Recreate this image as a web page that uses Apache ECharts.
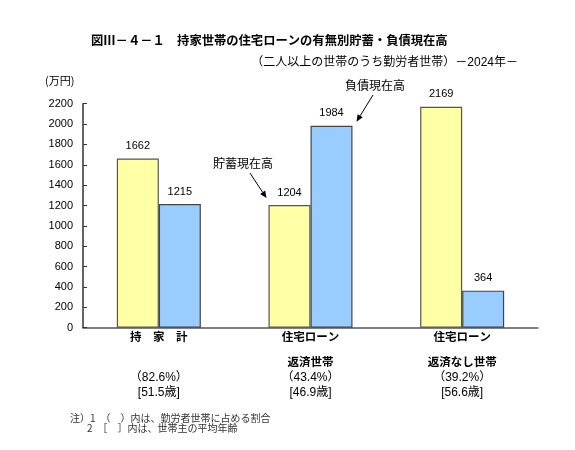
<!DOCTYPE html>
<html lang="ja" style="height: 100%">

<head>
    <meta charset="utf-8" />
    <script src="https://cdn.jsdelivr.net/npm/echarts@6/dist/echarts.min.js"></script>
</head>

<body style="height: 100%; margin: 0; background: #fff">
    <div id="container" style="width: 575px;height: 450px;"></div>
    <script type="text/javascript">
        // データ
        const categories = ['持　家　計', '住宅ローン\n返済世帯', '住宅ローン\n返済なし世帯'];
        const shares = ['（82.6%）', '（43.4%）', '（39.2%）'];
        const ages = ['[51.5歳]', '[46.9歳]', '[56.6歳]'];
        const savings = [1662, 1204, 2169];   // 貯蓄現在高
        const debts = [1215, 1984, 364];      // 負債現在高
        const yTicks = { min: 0, max: 2200, interval: 200 };

        const FONT = '"Liberation Sans", "Noto Sans CJK JP", sans-serif';
        const JP = '"Noto Sans CJK JP", sans-serif';

        var dom = document.getElementById('container');
        var myChart = echarts.init(dom, null, { renderer: 'canvas' });

        var option = {
            backgroundColor: '#ffffff',
            animation: false,
            textStyle: { fontFamily: FONT, color: '#000' },
            title: [{
                    text: '図Ⅲ－４－１　持家世帯の住宅ローンの有無別貯蓄・負債現在高',
                    left: 86,
                    top: 29,
                    textStyle: { fontSize: 12.3, fontWeight: 'bold', fontFamily: JP, color: '#000' }
                },
                {
                    text: '（二人以上の世帯のうち勤労者世帯）－2024年－',
                    right: 52,
                    top: 52,
                    textStyle: { fontSize: 12, fontWeight: 'normal', fontFamily: FONT, color: '#000' }
                }
            ],
            grid: {
                left: 83,
                right: 37,
                top: 103.7,
                bottom: 122.3
            },
            xAxis: [{
                    type: 'category',
                    data: categories,
                    axisLine: { lineStyle: { color: '#555', width: 1.5 } },
                    axisTick: { show: false },
                    axisLabel: {
                        interval: 0,
                        margin: 2,
                        formatter: function (v) {
                            const parts = v.split('\n');
                            return '{a|' + parts[0] + '}\n{c|' + (parts[1] || ' ') + '}';
                        },
                        rich: {
                            a: { fontSize: 11.5, fontWeight: 'bold', lineHeight: 14, fontFamily: JP, color: '#000' },
                            c: { fontSize: 11.5, fontWeight: 'bold', lineHeight: 36, fontFamily: JP, color: '#000' }
                        }
                    }
                },
                {
                    type: 'category',
                    position: 'bottom',
                    data: categories,
                    axisLine: { show: false },
                    axisTick: { show: false },
                    axisLabel: {
                        interval: 0,
                        margin: 42,
                        fontSize: 12,
                        lineHeight: 15.5,
                        color: '#000',
                        formatter: function (v, i) {
                            return shares[i] + '\n' + ages[i];
                        }
                    }
                }
            ],
            yAxis: {
                type: 'value',
                min: yTicks.min,
                max: yTicks.max,
                interval: yTicks.interval,
                splitLine: { show: false },
                axisLine: { show: true, lineStyle: { color: '#333', width: 1.5 } },
                axisTick: { show: true, inside: true, length: 4, lineStyle: { color: '#333' } },
                axisLabel: {
                    margin: 10,
                    fontSize: 11,
                    color: '#000',
                    formatter: function (v) {
                        return String(v);
                    }
                }
            },
            series: [{
                    name: '貯蓄現在高',
                    type: 'bar',
                    data: savings,
                    barWidth: 42,
                    barGap: '0%',
                    itemStyle: { color: '#FFFFA6', borderColor: '#555', borderWidth: 1.2 },
                    label: { show: true, position: 'top', distance: 7, fontSize: 11, color: '#000' }
                },
                {
                    name: '負債現在高',
                    type: 'bar',
                    data: debts,
                    barWidth: 42,
                    barGap: '0%',
                    itemStyle: { color: '#99CCFF', borderColor: '#444', borderWidth: 1.2 },
                    label: { show: true, position: 'top', distance: 7, fontSize: 11, color: '#000' }
                }
            ]
        };

        myChart.setOption(option);

        // 矢印付き注記
        function arrow(x1, y1, x2, y2) {
            const ang = Math.atan2(y2 - y1, x2 - x1);
            const len = 7, w = 3;
            const bx = x2 - len * Math.cos(ang), by = y2 - len * Math.sin(ang);
            const px = -Math.sin(ang) * w, py = Math.cos(ang) * w;
            return [{
                    type: 'line',
                    shape: { x1: x1, y1: y1, x2: bx, y2: by },
                    style: { stroke: '#000', lineWidth: 1 }
                },
                {
                    type: 'polygon',
                    shape: { points: [[x2, y2], [bx + px, by + py], [bx - px, by - py]] },
                    style: { fill: '#000' }
                }
            ];
        }

        const c1 = myChart.convertToPixel({ xAxisIndex: 0, yAxisIndex: 0 }, [1, savings[1]]);
        const c2 = myChart.convertToPixel({ xAxisIndex: 0, yAxisIndex: 0 }, [1, debts[1]]);

        let elements = [{
                type: 'text',
                left: 45,
                top: 75,
                style: { text: '(万円)', fontSize: 11, fontFamily: JP, fill: '#000' }
            },
            {
                type: 'text',
                x: c1[0] - 67.5,
                y: c1[1] - 42,
                style: { text: '貯蓄現在高', fontSize: 12, fontFamily: JP, fill: '#000', align: 'center', verticalAlign: 'middle' }
            },
            {
                type: 'text',
                x: c2[0] + 64.5,
                y: c2[1] - 40.7,
                style: { text: '負債現在高', fontSize: 12, fontFamily: JP, fill: '#000', align: 'center', verticalAlign: 'middle' }
            },
            {
                type: 'text',
                left: 70,
                top: 413,
                style: { text: '注）1　（　）内は、勤労者世帯に占める割合', fontSize: 10, fontFamily: JP, fill: '#333' }
            },
            {
                type: 'text',
                left: 87,
                top: 423.5,
                style: { text: '2　［　］内は、世帯主の平均年齢', fontSize: 10, fontFamily: JP, fill: '#333' }
            }
        ];
        elements = elements.concat(arrow(c1[0] - 60.5, c1[1] - 32, c1[0] - 44, c1[1] - 7));
        elements = elements.concat(arrow(c2[0] + 62.5, c2[1] - 30.7, c2[0] + 46, c2[1] - 4));

        myChart.setOption({ graphic: { elements: elements } });

        window.addEventListener('resize', myChart.resize);
    </script>
</body>

</html>
